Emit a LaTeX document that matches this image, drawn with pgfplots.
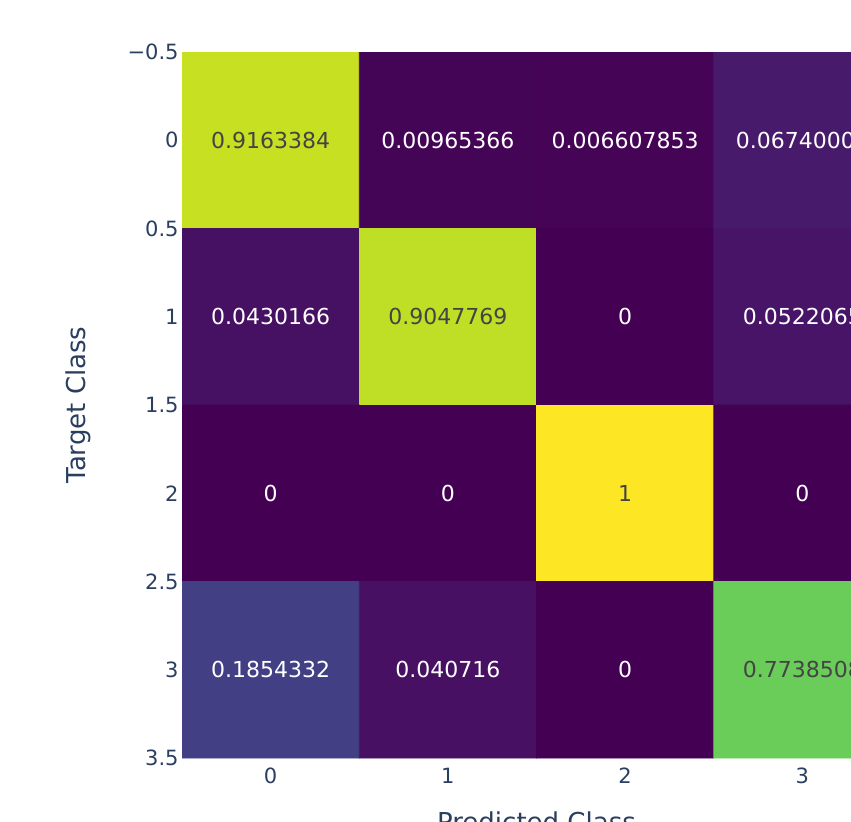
\documentclass[border=0pt]{standalone}
\usepackage{pgfplots}
\usepackage{pgfplotstable}
\pgfplotsset{compat=1.18}
\usepackage{fontspec}
\setmainfont{DejaVu Sans}
\definecolor{tickc}{RGB}{42,63,95}
\definecolor{darktxt}{RGB}{68,68,68}

\pgfplotstableread{
x y c
0 0 0.9163384
1 0 0.00965366
2 0 0.006607853
3 0 0.06740009
0 1 0.0430166
1 1 0.9047769
2 1 0
3 1 0.0522065
0 2 0
1 2 0
2 2 1
3 2 0
0 3 0.1854332
1 3 0.040716
2 3 0
3 3 0.7738508
}\cmdata

\pgfplotstableread{
x y lab
1 0 0.00965366
2 0 0.006607853
3 0 0.06740009
0 1 0.0430166
2 1 0
3 1 0.0522065
0 2 0
1 2 0
3 2 0
0 3 0.1854332
1 3 0.040716
2 3 0
}\whitelabels

\pgfplotstableread{
x y lab
0 0 0.9163384
1 1 0.9047769
2 2 1
3 3 0.7738508
}\darklabels

\begin{document}
\begin{tikzpicture}
\useasboundingbox (0,0) rectangle (425.5pt,410.5pt);
\clip (0,0) rectangle (425.5pt,410.5pt);
\begin{axis}[
  at={(91pt,384.5pt)}, anchor=north west,
  scale only axis,
  width=354.5pt, height=353pt,
  xmin=-0.5, xmax=3.5, ymin=-0.5, ymax=3.5,
  enlargelimits=false,
  y dir=reverse,
  colormap/viridis,
  point meta min=0, point meta max=1,
  axis line style={draw=none},
  major tick length=0pt,
  xtick={0,1,2,3},
  xticklabels={0,1,2,3},
  ytick={-0.5,0,0.5,1,1.5,2,2.5,3,3.5},
  yticklabels={−0.5,0,0.5,1,1.5,2,2.5,3,3.5},
  tick label style={font=\fontsize{10.5}{12}\selectfont, text=tickc},
  yticklabel style={inner sep=1.5pt},
  xticklabel style={yshift=-1.5pt},
  xlabel={Predicted Class},
  ylabel={Target Class},
  label style={font=\fontsize{13}{15}\selectfont, text=tickc},
  xlabel style={at={(axis description cs:0.5,-0.0907)}, anchor=center},
  ylabel style={at={(axis description cs:-0.1467,0.5)}, anchor=center},
]
\addplot [matrix plot*, mesh/cols=4, point meta=explicit, draw=none] table [x=x, y=y, meta=c] {\cmdata};
\addplot [only marks, mark=none, point meta=explicit symbolic,
  nodes near coords, nodes near coords align={center},
  every node near coord/.append style={font=\fontsize{11}{13}\selectfont, text=white, anchor=center}]
  table [x=x, y=y, meta=lab] {\whitelabels};
\addplot [only marks, mark=none, point meta=explicit symbolic,
  nodes near coords, nodes near coords align={center},
  every node near coord/.append style={font=\fontsize{11}{13}\selectfont, text=darktxt, anchor=center}]
  table [x=x, y=y, meta=lab] {\darklabels};
\end{axis}
\end{tikzpicture}
\end{document}
